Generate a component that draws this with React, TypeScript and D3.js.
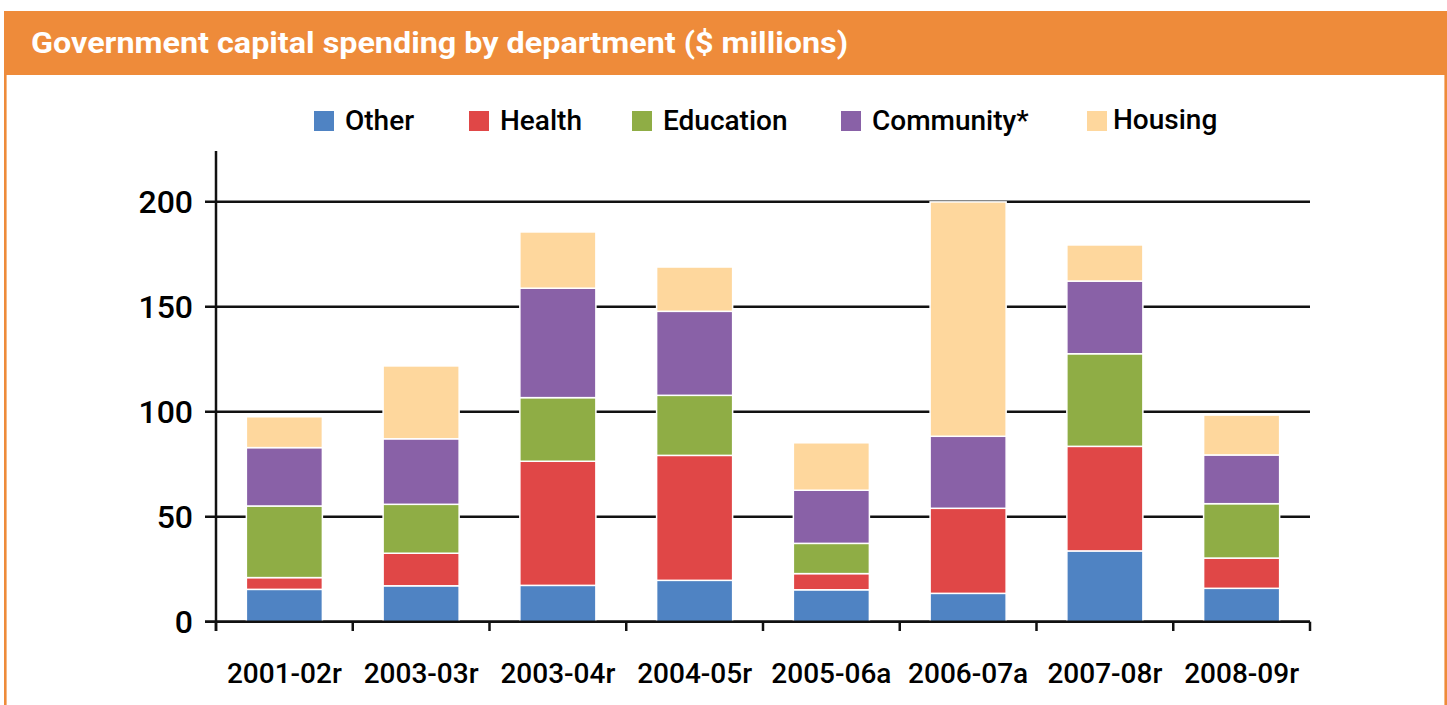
import React from "react";
import * as d3 from "d3";

const categories = ["2001-02r", "2003-03r", "2003-04r", "2004-05r", "2005-06a", "2006-07a", "2007-08r", "2008-09r"];
const seriesNames = ["Other", "Health", "Education", "Community*", "Housing"];
const other = [15.4, 17.1, 17.3, 19.7, 15.2, 13.5, 33.7, 15.9];
const health = [5.6, 15.5, 59.1, 59.5, 7.7, 40.5, 49.8, 14.4];
const education = [34.1, 23.3, 30.3, 28.6, 14.4, 0, 44.1, 25.9];
const community = [27.8, 31.2, 52.1, 40.0, 25.3, 34.3, 34.6, 23.2];
const housing = [14.7, 34.7, 26.8, 21.1, 22.6, 111.6, 17.2, 19.0];
const yTicks = [0, 50, 100, 150, 200];
const colors = ["#4F83C3", "#E04747", "#8FAD45", "#8961A7", "#FED79D"];

const W = 1447;
const H = 705;
const ORANGE = "#EE8B3A";
const FONT = "Roboto, 'DejaVu Sans', sans-serif";

export default function App() {
  const left = 216;
  const right = 1310;
  const y = d3.scaleLinear().domain([0, 200]).range([621.7, 201.7]);
  const x = d3.scaleBand<string>().domain(categories).range([left, right]).paddingInner(0.444).paddingOuter(0.222);
  const step = x.step();
  const boundary = (i: number) => left + i * step;

  const rows = categories.map((c, i) => ({
    cat: c,
    Other: other[i],
    Health: health[i],
    Education: education[i],
    "Community*": community[i],
    Housing: housing[i],
  }));
  const stacked = d3.stack<any>().keys(seriesNames)(rows);

  const legendX = [314, 469, 632, 841, 1087];

  return (
    <svg width={W} height={H} style={{ position: "absolute", left: 0, top: 0, display: "block" }}>
      <rect x={0} y={0} width={W} height={H} fill="#fff" />
      {/* header band */}
      <rect x={4} y={11} width={1443} height={64} fill={ORANGE} />
      <rect x={4} y={11} width={2.6} height={H - 11} fill={ORANGE} />
      <rect x={1444.4} y={11} width={2.6} height={H - 11} fill={ORANGE} />
      <text x={31} y={53} fill="#fff" fontFamily={FONT} fontWeight={700} fontSize={29} textLength={817} lengthAdjust="spacingAndGlyphs">
        Government capital spending by department ($ millions)
      </text>

      {/* legend */}
      {seriesNames.map((s, i) => (
        <g key={s}>
          <rect x={legendX[i]} y={111} width={20} height={20} fill={colors[i]} />
          <text x={legendX[i] + (i === 4 ? 26 : 31)} y={i === 4 ? 128.5 : 130} fontFamily={FONT} fontWeight={500} fontSize={28} fill="#000">
            {s}
          </text>
        </g>
      ))}

      {/* gridlines */}
      {yTicks.map((t) => (
        <g key={t}>
          <line x1={205} x2={right} y1={y(t)} y2={y(t)} stroke="#111" strokeWidth={2.5} />
          <text x={193} y={y(t) + 11.5} textAnchor="end" fontFamily={FONT} fontWeight={500} fontSize={32} fill="#000">
            {t}
          </text>
        </g>
      ))}

      {/* bars */}
      {stacked.map((layer, si) => (
        <g key={layer.key} fill={colors[si]}>
          {layer.map((d, ci) => {
            const h = y(d[0]) - y(d[1]);
            if (h <= 0.01) return null;
            return (
              <rect
                key={ci}
                x={x(categories[ci])}
                y={y(d[1])}
                width={x.bandwidth()}
                height={h}
                stroke="#fff"
                strokeWidth={1.5}
              />
            );
          })}
        </g>
      ))}

      {/* axes */}
      <line x1={left} x2={left} y1={151} y2={631} stroke="#111" strokeWidth={2.5} />
      <line x1={205} x2={right} y1={y(0)} y2={y(0)} stroke="#111" strokeWidth={2.5} />
      {d3.range(categories.length + 1).map((i) => (
        <line key={i} x1={boundary(i)} x2={boundary(i)} y1={y(0)} y2={631} stroke="#111" strokeWidth={2.5} />
      ))}
      {categories.map((c) => (
        <text key={c} x={(x(c) as number) + x.bandwidth() / 2} y={683} textAnchor="middle" fontFamily={FONT} fontWeight={500} fontSize={28} fill="#000">
          {c}
        </text>
      ))}
    </svg>
  );
}
